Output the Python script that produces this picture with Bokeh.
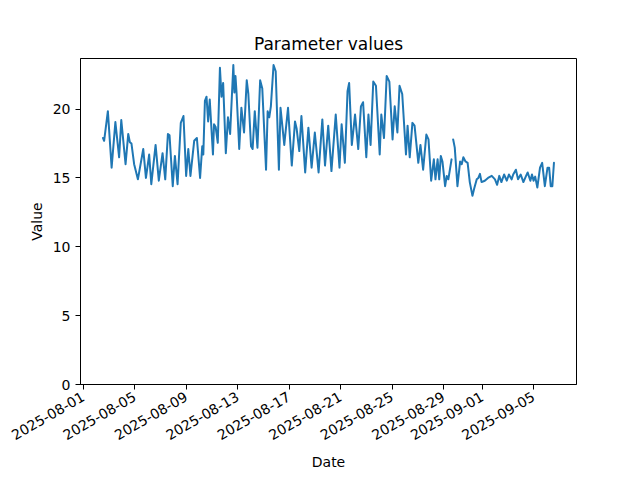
import math
import numpy as np
import pandas as pd
from bokeh.plotting import figure
from bokeh.models import Range1d, FixedTicker, DatetimeTickFormatter, ColumnDataSource
from bokeh.embed import file_html
from bokeh.resources import INLINE

# hours since 2025-08-01 00:00 and parameter values (NaN = gap in record)
hours = [37, 39, 46, 53, 60, 67, 71, 79, 84, 87, 90, 95, 102, 112, 117, 123, 127, 135, 141, 148,
         153, 158, 161, 167, 171, 176, 182, 187, 192, 196, 200, 207, 212, 218, 222, 224, 227, 230,
         233, 236, 242, 244, 247, 251, 255, 258, 261, 266, 270, 274, 280, 282, 284, 286, 291, 295,
         300, 305, 308, 313, 316, 320, 325, 330, 334, 341, 344, 347, 350, 355, 359, 365, 368, 375,
         382, 389, 395, 398, 403, 407, 414, 420, 426, 432, 439, 446, 451, 457, 463, 471, 478, 482,
         488, 493, 496, 501, 507, 513, 518, 522, 528, 532, 536, 541, 546, 553, 556, 561, 566, 571,
         577, 581, 586, 590, 595, 602, 605, 609, 614, 618, 625, 629, 634, 640, 644, 649, 654, 657,
         661, 664, 667, 670, 675, 678, 681, 687,
         688.5,
         690, 693, 698, 703, 706, 709, 713, 717, 721, 726, 729, 734, 737, 740, 743, 749, 755, 762,
         768, 772, 776, 780, 785, 790, 794, 799, 802, 807, 811, 816, 821, 826, 829, 834, 837, 840,
         843, 847, 852, 856, 861, 866, 869, 872, 875, 878]
values = [17.9, 17.7, 19.85, 15.75, 19.06, 16.5, 19.2, 16.0, 18.2, 17.6, 17.5, 16.0, 14.9, 17.1,
          15.0, 16.7, 14.55, 17.4, 14.8, 16.8, 14.9, 18.2, 18.1, 14.4, 16.6, 14.55, 19.0, 19.5,
          15.15, 17.1, 15.15, 17.7, 17.9, 15.0, 17.3, 16.7, 20.6, 20.9, 19.1, 20.7, 16.7, 18.9,
          18.7, 17.55, 23.0, 20.9, 21.9, 16.8, 19.4, 18.2, 23.2, 21.2, 22.4, 21.2, 17.1, 20.1,
          18.3, 22.1, 21.1, 17.3, 17.1, 19.85, 17.2, 22.1, 21.5, 15.6, 19.85, 19.4, 20.2, 23.2,
          22.75, 15.6, 20.1, 17.4, 20.1, 15.9, 19.1, 18.6, 16.95, 19.5, 15.4, 18.65, 15.75, 18.3,
          15.4, 19.25, 15.9, 18.8, 15.5, 19.6, 15.75, 18.9, 16.1, 21.3, 21.9, 17.4, 19.6, 17.1,
          20.2, 20.5, 16.5, 19.6, 17.4, 22.0, 21.7, 16.7, 19.6, 17.9, 22.4, 22.0, 17.8, 20.2, 18.3,
          21.7, 21.1, 16.7, 18.8, 16.5, 19.0, 18.8, 16.1, 17.4, 15.6, 18.15, 17.8, 14.8, 16.35,
          14.9, 16.35, 14.9, 16.6, 16.2, 14.4, 15.15, 14.9, 16.35,
          float("nan"),
          17.8, 17.2, 14.4, 16.2, 16.0, 16.5, 16.2, 16.1, 14.7, 13.7, 14.2, 14.9, 15.0, 15.3, 14.7,
          14.8, 15.0, 15.15, 14.9, 14.5, 15.15, 14.7, 15.25, 14.8, 15.25, 14.9, 15.25, 15.6, 14.9,
          15.25, 14.7, 15.15, 15.4, 14.8, 15.25, 14.8, 15.1, 14.3, 15.75, 16.1, 14.4, 15.75, 15.75,
          14.4, 14.4, 16.1]

tick_dates = ["2025-08-01", "2025-08-05", "2025-08-09", "2025-08-13", "2025-08-17",
              "2025-08-21", "2025-08-25", "2025-08-29", "2025-09-01", "2025-09-05"]
y_ticks = [0, 5, 10, 15, 20]

start = pd.Timestamp("2025-08-01")
dates = start + pd.to_timedelta(hours, unit="h")
src = ColumnDataSource(dict(date=dates, value=values))

dmin, dmax = dates.min(), dates.max()
pad = (dmax - dmin) * 0.05
vals = np.array(values, dtype=float)
vmin, vmax = np.nanmin(vals), np.nanmax(vals)
ytop = vmax + 0.05 * (vmax - vmin)

FONT = "DejaVu Sans"
p = figure(width=632, height=472, x_axis_type="datetime",
           x_range=Range1d(dmin - pad, dmax + pad), y_range=Range1d(0, ytop),
           output_backend="svg", toolbar_location=None,
           title="Parameter values", x_axis_label="Date", y_axis_label="Value",
           min_border_left=80, min_border_right=56, min_border_top=58, min_border_bottom=88)

p.line("date", "value", source=src, line_color="#1f77b4", line_width=2,
       line_join="round", line_cap="round")

tick_ms = [pd.Timestamp(d).value / 1e6 for d in tick_dates]
p.xaxis.ticker = FixedTicker(ticks=tick_ms)
p.xaxis.formatter = DatetimeTickFormatter(days="%Y-%m-%d", months="%Y-%m-%d", hours="%Y-%m-%d")
p.xaxis.major_label_orientation = math.pi / 6
p.yaxis.ticker = FixedTicker(ticks=y_ticks)

p.xgrid.visible = False
p.ygrid.visible = False
p.outline_line_color = "black"
p.outline_line_width = 1
p.background_fill_color = "white"
p.border_fill_color = "white"

for ax in (p.xaxis, p.yaxis):
    ax.axis_line_color = "black"
    ax.major_tick_line_color = "black"
    ax.major_tick_in = 0
    ax.major_tick_out = 5
    ax.minor_tick_line_color = None
    ax.major_label_text_font = FONT
    ax.major_label_text_font_size = "14px"
    ax.major_label_text_color = "black"
    ax.axis_label_text_font = FONT
    ax.axis_label_text_font_size = "14px"
    ax.axis_label_text_font_style = "normal"
    ax.axis_label_text_color = "black"
    ax.major_label_standoff = 5

p.xaxis.major_label_standoff = 6
p.xaxis.axis_label_standoff = 6

p.title.text_font = FONT
p.title.text_font_size = "17px"
p.title.text_font_style = "normal"
p.title.text_color = "black"
p.title.align = "center"

open("out.html", "w").write(file_html(p, INLINE))
